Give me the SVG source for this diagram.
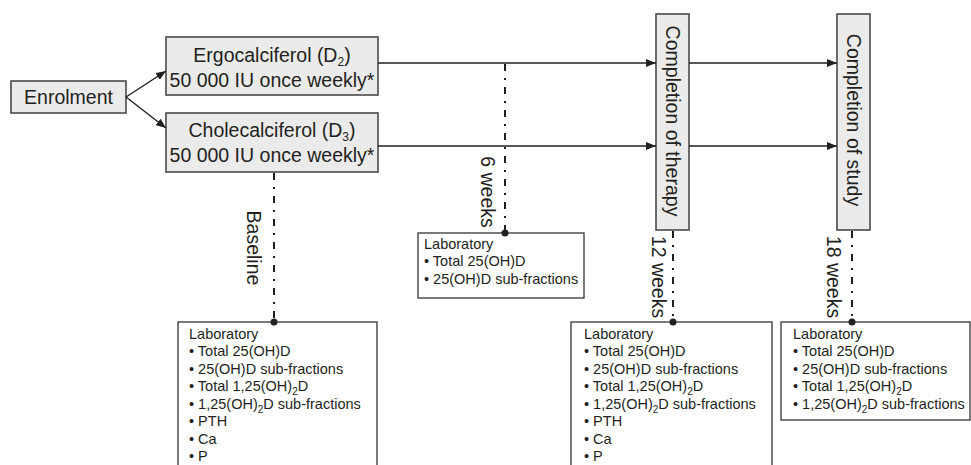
<svg xmlns="http://www.w3.org/2000/svg" width="971" height="465" viewBox="0 0 971 465">
<defs>
<marker id="ah" markerUnits="userSpaceOnUse" markerWidth="10" markerHeight="8" refX="10" refY="4" orient="auto">
<path d="M0,0 L10,4 L0,8 z" fill="#231f20"/>
</marker>
<style>
.gbox{fill:#ebebeb;stroke:#4a4a4a;stroke-width:1.6}
.lab{fill:#ffffff;stroke:#333;stroke-width:1.3}
.big{font-family:"Liberation Sans",Arial,sans-serif;font-size:19.5px;fill:#231f20}
.sm{font-family:"Liberation Sans",Arial,sans-serif;font-size:14.5px;fill:#231f20}
.conn{stroke:#231f20;stroke-width:1.4;fill:none}
.dash{stroke:#231f20;stroke-width:2;fill:none;stroke-dasharray:7 7 2 7}
.dot{fill:#231f20}
</style>
</defs>

<g id="enrolment">
<rect class="gbox" x="11" y="81" width="115" height="32"/>
<text class="big" x="68.5" y="104" text-anchor="middle">Enrolment</text>
</g>

<g id="ergocalciferol">
<rect class="gbox" x="166" y="37" width="212" height="58"/>
<text class="big" x="272" y="62" text-anchor="middle">Ergocalciferol (D<tspan font-size="12" dy="4">2</tspan><tspan dy="-4">)</tspan></text>
<text class="big" x="272" y="87" text-anchor="middle">50 000 IU once weekly*</text>
</g>

<g id="cholecalciferol">
<rect class="gbox" x="166" y="113" width="212" height="59"/>
<text class="big" x="272" y="137" text-anchor="middle">Cholecalciferol (D<tspan font-size="12" dy="4">3</tspan><tspan dy="-4">)</tspan></text>
<text class="big" x="272" y="162" text-anchor="middle">50 000 IU once weekly*</text>
</g>

<g id="completion-therapy">
<rect class="gbox" x="656" y="14" width="33" height="216"/>
<text class="big" transform="translate(666,121) rotate(90)" text-anchor="middle">Completion of therapy</text>
</g>

<g id="completion-study">
<rect class="gbox" x="837" y="14" width="33" height="216"/>
<text class="big" transform="translate(847,120) rotate(90)" text-anchor="middle">Completion of study</text>
</g>

<g id="lab-baseline">
<rect class="lab" x="178" y="322" width="199" height="160"/>
<text class="sm" x="189" y="339">Laboratory</text>
<text class="sm" x="189" y="356">• Total 25(OH)D</text>
<text class="sm" x="189" y="374">• 25(OH)D sub-fractions</text>
<text class="sm" x="189" y="391">• Total 1,25(OH)<tspan font-size="10" dy="4">2</tspan><tspan dy="-4">D</tspan></text>
<text class="sm" x="189" y="409">• 1,25(OH)<tspan font-size="10" dy="4">2</tspan><tspan dy="-4">D sub-fractions</tspan></text>
<text class="sm" x="189" y="426">• PTH</text>
<text class="sm" x="189" y="444">• Ca</text>
<text class="sm" x="189" y="461">• P</text>
</g>

<g id="lab-6weeks">
<rect class="lab" x="418" y="233" width="166" height="65"/>
<text class="sm" x="424" y="249">Laboratory</text>
<text class="sm" x="424" y="266">• Total 25(OH)D</text>
<text class="sm" x="424" y="284">• 25(OH)D sub-fractions</text>
</g>

<g id="lab-12weeks">
<rect class="lab" x="571" y="322" width="201" height="160"/>
<text class="sm" x="584" y="339">Laboratory</text>
<text class="sm" x="584" y="356">• Total 25(OH)D</text>
<text class="sm" x="584" y="374">• 25(OH)D sub-fractions</text>
<text class="sm" x="584" y="391">• Total 1,25(OH)<tspan font-size="10" dy="4">2</tspan><tspan dy="-4">D</tspan></text>
<text class="sm" x="584" y="409">• 1,25(OH)<tspan font-size="10" dy="4">2</tspan><tspan dy="-4">D sub-fractions</tspan></text>
<text class="sm" x="584" y="426">• PTH</text>
<text class="sm" x="584" y="444">• Ca</text>
<text class="sm" x="584" y="461">• P</text>
</g>

<g id="lab-18weeks">
<rect class="lab" x="781" y="322" width="189" height="98"/>
<text class="sm" x="793" y="339">Laboratory</text>
<text class="sm" x="793" y="356">• Total 25(OH)D</text>
<text class="sm" x="793" y="374">• 25(OH)D sub-fractions</text>
<text class="sm" x="793" y="391">• Total 1,25(OH)<tspan font-size="10" dy="4">2</tspan><tspan dy="-4">D</tspan></text>
<text class="sm" x="793" y="409">• 1,25(OH)<tspan font-size="10" dy="4">2</tspan><tspan dy="-4">D sub-fractions</tspan></text>
</g>

<g id="connectors">
<line class="conn" x1="126" y1="97" x2="166" y2="71" marker-end="url(#ah)"/>
<line class="conn" x1="126" y1="97" x2="166" y2="128" marker-end="url(#ah)"/>
<line class="conn" x1="378" y1="63" x2="656" y2="63" marker-end="url(#ah)"/>
<line class="conn" x1="378" y1="146" x2="656" y2="146" marker-end="url(#ah)"/>
<line class="conn" x1="689" y1="63" x2="837" y2="63" marker-end="url(#ah)"/>
<line class="conn" x1="689" y1="146" x2="837" y2="146" marker-end="url(#ah)"/>

<line class="dash" x1="274" y1="173" x2="274" y2="322"/>
<circle class="dot" cx="274" cy="322" r="3.5"/>
<text class="big" transform="translate(247,248) rotate(90)" text-anchor="middle">Baseline</text>

<line class="dash" x1="505" y1="64" x2="505" y2="233"/>
<circle class="dot" cx="505" cy="233" r="3.5"/>
<text class="big" transform="translate(481,192) rotate(90)" text-anchor="middle">6 weeks</text>

<line class="dash" x1="673" y1="231" x2="673" y2="322"/>
<circle class="dot" cx="673" cy="322" r="3.5"/>
<text class="big" transform="translate(652,277) rotate(90)" text-anchor="middle">12 weeks</text>

<line class="dash" x1="852" y1="231" x2="852" y2="322"/>
<circle class="dot" cx="852" cy="322" r="3.5"/>
<text class="big" transform="translate(827,277) rotate(90)" text-anchor="middle">18 weeks</text>
</g>
</svg>
